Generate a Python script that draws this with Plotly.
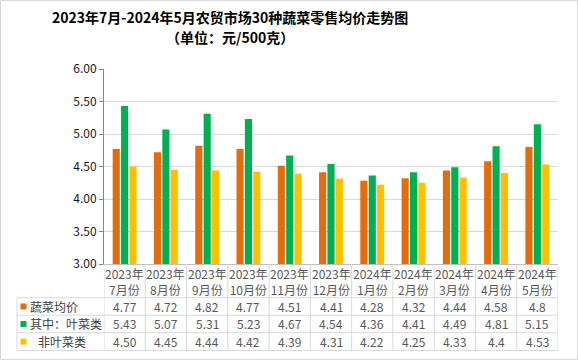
import plotly.graph_objects as go

months = ["2023年<br>7月份", "2023年<br>8月份", "2023年<br>9月份", "2023年<br>10月份",
          "2023年<br>11月份", "2023年<br>12月份", "2024年<br>1月份", "2024年<br>2月份",
          "2024年<br>3月份", "2024年<br>4月份", "2024年<br>5月份"]
avg = [4.77, 4.72, 4.82, 4.77, 4.51, 4.41, 4.28, 4.32, 4.44, 4.58, 4.8]
leaf = [5.43, 5.07, 5.31, 5.23, 4.67, 4.54, 4.36, 4.41, 4.49, 4.81, 5.15]
nonleaf = [4.50, 4.45, 4.44, 4.42, 4.39, 4.31, 4.22, 4.25, 4.33, 4.4, 4.53]
avg_text = [str(v) for v in avg]
leaf_text = [str(v) for v in leaf]
nonleaf_text = ["4.50", "4.45", "4.44", "4.42", "4.39", "4.31", "4.22", "4.25", "4.33", "4.4", "4.53"]
series_names = ["蔬菜均价", "其中：叶菜类", "非叶菜类"]
row_labels = ["蔬菜均价", "其中：叶菜类", "&nbsp;&nbsp;&nbsp;非叶菜类"]
colors = ["#E46C0A", "#00B050", "#FFC000"]
title1 = "2023年7月-2024年5月农贸市场30种蔬菜零售均价走势图"
title2 = "（单位：元/500克）"

W, H = 578, 360
L, R, T, B = 104, 558, 69, 264
FONT = "Noto Sans CJK SC"


def py(p):
    return (B - p) / (B - T)


def px(p):
    return (p - L) / (R - L)


fig = go.Figure()
for name, vals, col in zip(series_names, [avg, leaf, nonleaf], colors):
    fig.add_trace(go.Bar(x=list(range(len(months))), y=vals, name=name,
                         marker=dict(color=col, line=dict(width=0))))

shapes = []
annots = []
grid = "#D9D9D9"
# outer border
shapes.append(dict(type="rect", xref="paper", yref="paper", x0=px(0.5), x1=px(577.5),
                   y0=py(359.5), y1=py(0.5), line=dict(color="#D9D9D9", width=1)))
# table horizontal lines
row_y = [297.7, 315.2, 332.7, 350.5]
for yv in row_y:
    shapes.append(dict(type="line", xref="paper", yref="paper", x0=px(17), x1=px(R),
                       y0=py(yv), y1=py(yv), line=dict(color=grid, width=1)))
# vertical lines
n = len(months)
for i in range(n + 1):
    shapes.append(dict(type="line", xref="x", yref="paper", x0=i - 0.5, x1=i - 0.5,
                       y0=py(B), y1=py(350.5), line=dict(color=grid, width=1)))
shapes.append(dict(type="line", xref="paper", yref="paper", x0=px(17), x1=px(17),
                   y0=py(297.7), y1=py(350.5), line=dict(color=grid, width=1)))

# header
for i, m in enumerate(months):
    annots.append(dict(xref="x", yref="paper", x=i, y=py(281), text=m, showarrow=False,
                       xanchor="center", yanchor="middle",
                       font=dict(family=FONT, size=12, color="#595959")))
# rows
rows_text = [avg_text, leaf_text, nonleaf_text]
for r in range(3):
    yc = (row_y[r] + row_y[r + 1]) / 2
    shapes.append(dict(type="rect", xref="paper", yref="paper", x0=px(20.5), x1=px(26.5),
                       y0=py(yc + 3), y1=py(yc - 3), line=dict(width=0), fillcolor=colors[r]))
    annots.append(dict(xref="paper", yref="paper", x=px(27.5), y=py(yc), text=row_labels[r],
                       showarrow=False, xanchor="left", yanchor="middle",
                       font=dict(family=FONT, size=12, color="#404040")))
    for i, t in enumerate(rows_text[r]):
        annots.append(dict(xref="x", yref="paper", x=i, y=py(yc), text=t, showarrow=False,
                           xanchor="center", yanchor="middle",
                           font=dict(family=FONT, size=12, color="#595959")))

# title
annots.append(dict(xref="paper", yref="paper", x=px(230), y=py(17), text="<b>" + title1 + "</b>",
                   showarrow=False, xanchor="center", yanchor="middle",
                   font=dict(family=FONT, size=14, color="#000000")))
annots.append(dict(xref="paper", yref="paper", x=px(230), y=py(37), text="<b>" + title2 + "</b>",
                   showarrow=False, xanchor="center", yanchor="middle",
                   font=dict(family=FONT, size=14, color="#000000")))

fig.update_layout(
    width=W, height=H,
    margin=dict(l=L, r=W - R, t=T, b=H - B, pad=0),
    paper_bgcolor="white", plot_bgcolor="white",
    barmode="group", bargap=0.39, bargroupgap=0.15,
    showlegend=False,
    shapes=shapes, annotations=annots,
    xaxis=dict(range=[-0.5, n - 0.5], showticklabels=False, showgrid=False, zeroline=False,
               showline=True, linecolor="#BFBFBF", linewidth=1, ticks=""),
    yaxis=dict(range=[3, 6], dtick=0.5, tickformat=".2f", showgrid=True, gridcolor=grid,
               gridwidth=1, zeroline=False, showline=True, linecolor="#868686", linewidth=1,
               ticks="outside", ticklen=4, tickcolor="#868686",
               tickfont=dict(family=FONT, size=12, color="#1a1a1a")),
)
fig.write_html("out.html", config={"displayModeBar": False},
               post_script="document.body.style.margin='0';document.body.style.overflow='hidden';")
